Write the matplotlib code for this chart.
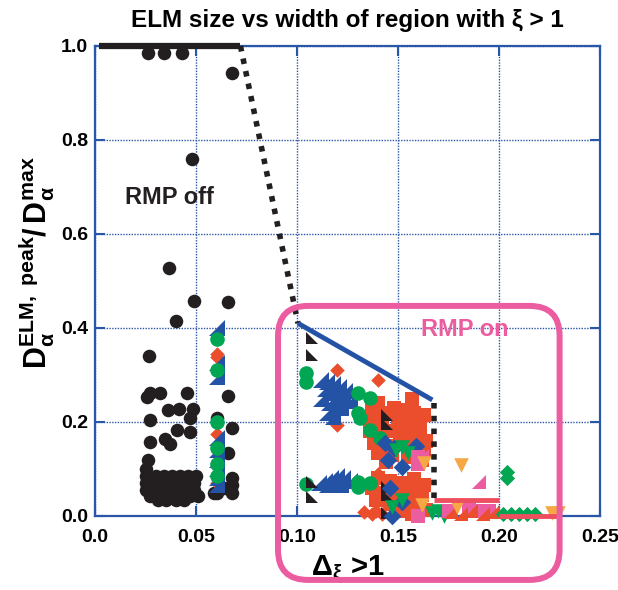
import matplotlib
matplotlib.use("Agg")
import matplotlib.pyplot as plt
from matplotlib.path import Path
from matplotlib.patches import FancyBboxPatch
import numpy as np

plt.rcParams['font.family'] = ['Liberation Sans', 'DejaVu Sans']
plt.rcParams['mathtext.fontset'] = 'custom'
plt.rcParams['mathtext.rm'] = 'Liberation Sans:bold'
plt.rcParams['mathtext.bf'] = 'Liberation Sans:bold'
plt.rcParams['mathtext.it'] = 'Liberation Sans:bold'
plt.rcParams['mathtext.default'] = 'bf'

# ---------------- data ----------------
title = "ELM size vs width of region with ξ > 1"
xticks = [0.0, 0.05, 0.10, 0.15, 0.20, 0.25]
xtick_labels = ["0.0", "0.05", "0.10", "0.15", "0.20", "0.25"]
yticks = [0.0, 0.2, 0.4, 0.6, 0.8, 1.0]
ytick_labels = ["0.0", "0.2", "0.4", "0.6", "0.8", "1.0"]

# RMP off: black circles
off_x = [0.026, 0.034, 0.043, 0.068, 0.048, 0.0367, 0.049, 0.066, 0.040, 0.0267,
         0.027, 0.032, 0.0455, 0.066, 0.0257, 0.036, 0.0416, 0.0485, 0.027, 0.047,
         0.047, 0.0406, 0.0347, 0.037, 0.027, 0.068, 0.066, 0.0605, 0.026, 0.059,
         0.068, 0.068, 0.064, 0.068, 0.025, 0.025,
         0.030, 0.034, 0.038, 0.042, 0.046, 0.050,
         0.025, 0.029, 0.033, 0.037, 0.041, 0.045, 0.049,
         0.025, 0.029, 0.033, 0.037, 0.041, 0.045, 0.049,
         0.027, 0.031, 0.035, 0.039, 0.043, 0.047, 0.051,
         0.031, 0.035, 0.040, 0.044, 0.0605]
off_y = [0.985, 0.985, 0.985, 0.943, 0.76, 0.528, 0.457, 0.455, 0.415, 0.34,
         0.262, 0.262, 0.262, 0.255, 0.253, 0.225, 0.228, 0.228, 0.204, 0.208,
         0.179, 0.183, 0.164, 0.153, 0.157, 0.187, 0.134, 0.208, 0.119, 0.049,
         0.08, 0.05, 0.06, 0.065, 0.10, 0.085,
         0.085, 0.085, 0.085, 0.085, 0.085, 0.085,
         0.07, 0.07, 0.07, 0.07, 0.07, 0.07, 0.07,
         0.055, 0.055, 0.055, 0.055, 0.055, 0.055, 0.055,
         0.043, 0.043, 0.043, 0.043, 0.043, 0.043, 0.043,
         0.033, 0.033, 0.033, 0.033, 0.05]

# RMP on series
red_sq_x = [0.157, 0.140, 0.137, 0.143, 0.148, 0.153, 0.158, 0.163, 0.136, 0.142,
            0.150, 0.156, 0.161, 0.136, 0.141, 0.147, 0.153, 0.159, 0.164, 0.138,
            0.145, 0.151, 0.158, 0.163, 0.140, 0.147, 0.155, 0.162, 0.144,
            0.140, 0.146, 0.152, 0.158, 0.163, 0.137, 0.143, 0.150, 0.156, 0.162,
            0.139, 0.146, 0.155, 0.160, 0.150, 0.157, 0.164]
red_sq_y = [0.250, 0.240, 0.225, 0.220, 0.230, 0.225, 0.220, 0.215, 0.200, 0.200,
            0.205, 0.200, 0.190, 0.180, 0.170, 0.180, 0.175, 0.170, 0.160, 0.155,
            0.150, 0.155, 0.145, 0.140, 0.135, 0.130, 0.125, 0.120, 0.115,
            0.080, 0.075, 0.070, 0.078, 0.065, 0.060, 0.050, 0.045, 0.055, 0.045,
            0.035, 0.025, 0.030, 0.020, 0.010, 0.005, 0.012]

red_dia_x = [0.120, 0.140, 0.120, 0.140, 0.137, 0.142, 0.139, 0.133, 0.0605, 0.0605, 0.0605, 0.0605]
red_dia_y = [0.310, 0.290, 0.194, 0.090, 0.005, 0.005, 0.010, 0.008, 0.345, 0.338, 0.175, 0.07]

blue_tri_x = [0.112, 0.115, 0.118, 0.121, 0.114, 0.117, 0.120, 0.123, 0.112, 0.116,
              0.119, 0.122, 0.115, 0.118, 0.124, 0.126,
              0.111, 0.114, 0.117, 0.120, 0.123, 0.126, 0.119, 0.122, 0.115,
              0.0605, 0.0605, 0.0605, 0.0605, 0.0605, 0.0605, 0.0605, 0.0605, 0.0605]
blue_tri_y = [0.290, 0.285, 0.280, 0.275, 0.270, 0.262, 0.255, 0.250, 0.250, 0.240,
              0.235, 0.230, 0.220, 0.210, 0.265, 0.245,
              0.070, 0.075, 0.080, 0.085, 0.080, 0.075, 0.070, 0.065, 0.065,
              0.400, 0.325, 0.296, 0.165, 0.140, 0.120, 0.100, 0.080, 0.065]

green_c_x = [0.1045, 0.1045, 0.130, 0.136, 0.130, 0.131, 0.1045, 0.130, 0.136, 0.130,
             0.136, 0.141, 0.0605, 0.0605, 0.0605, 0.0605, 0.0605, 0.0605]
green_c_y = [0.304, 0.285, 0.262, 0.251, 0.219, 0.208, 0.068, 0.072, 0.070, 0.062,
             0.183, 0.165, 0.377, 0.310, 0.200, 0.145, 0.110, 0.085]

black_tri_x = [0.1074, 0.1074, 0.1446, 0.1446, 0.1074, 0.1074, 0.1446, 0.1446, 0.1446]
black_tri_y = [0.379, 0.343, 0.215, 0.195, 0.072, 0.040, 0.062, 0.045, 0.006]

blue_dia_x = [0.1436, 0.152, 0.159, 0.145, 0.148, 0.146, 0.152, 0.147]
blue_dia_y = [0.155, 0.105, 0.150, 0.120, 0.145, 0.060, 0.030, 0.000]

green_dn_x = [0.152, 0.149, 0.155, 0.152, 0.147, 0.167, 0.170, 0.173]
green_dn_y = [0.147, 0.140, 0.135, 0.034, 0.020, 0.006, 0.010, 0.000]

pink_sq_x = [0.160, 0.160, 0.160, 0.175, 0.185, 0.190, 0.195]
pink_sq_y = [0.110, 0.125, 0.000, 0.010, 0.015, 0.010, 0.010]

pink_tri_x = [0.190, 0.162]
pink_tri_y = [0.072, 0.128]

red_tri_x = [0.176, 0.181, 0.186, 0.192, 0.197]
red_tri_y = [0.008, 0.005, 0.010, 0.005, 0.008]

green_dia_x = [0.204, 0.204, 0.202, 0.206, 0.210, 0.214, 0.218]
green_dia_y = [0.094, 0.080, 0.005, 0.005, 0.005, 0.005, 0.005]

orange_dn_x = [0.163, 0.181, 0.162, 0.179, 0.226, 0.229]
orange_dn_y = [0.113, 0.109, 0.023, 0.020, 0.006, 0.006]

# guide lines
off_line_x = [0.002, 0.072]
off_line_y = [1.0, 1.0]
drop_x = [0.072, 0.1005]
drop_y = [1.0, 0.41]
on_line_x = [0.1005, 0.167]
on_line_y = [0.41, 0.247]
vert_x = [0.168, 0.168]
vert_y = [0.24, 0.03]
red_line1_x = [0.168, 0.200]
red_line1_y = [0.034, 0.034]
red_line2_x = [0.200, 0.230]
red_line2_y = [0.000, 0.000]

box_x0, box_x1 = 0.0906, 0.230
box_y0, box_y1 = -0.136, 0.447

# ---------------- colours ----------------
BLACK = "#231f20"
BLUE = "#2453a6"
GREEN = "#00a651"
RED = "#ea4e2c"
ORANGE = "#f5a843"
PINK = "#ec5ca0"
REDLINE = "#ee4f5f"
AXBLUE = "#2a56a8"

tri_br = Path([(1, 1), (1, -1), (-1, -1), (1, 1)], [1, 2, 2, 79])   # right angle at bottom-right
tri_bl = Path([(-1, 1), (-1, -1), (1, -1), (-1, 1)], [1, 2, 2, 79])  # right angle at bottom-left

fig = plt.figure(figsize=(6.18, 5.90), dpi=100)
ax = fig.add_axes([95/618, 1-516/590, 505/618, 470/590])
ax.set_xlim(0, 0.25)
ax.set_ylim(0, 1.0)

kw = dict(linewidths=0, clip_on=False)
ax.scatter(off_x, off_y, s=95, color=BLACK, marker='o', zorder=3, **kw)
ax.scatter(red_sq_x, red_sq_y, s=115, color=RED, marker='s', zorder=4, **kw)
ax.scatter(red_dia_x, red_dia_y, s=55, color=RED, marker='D', zorder=4, **kw)
ax.scatter(blue_tri_x, blue_tri_y, s=140, color=BLUE, marker=tri_br, zorder=5, **kw)
ax.scatter(green_c_x, green_c_y, s=110, color=GREEN, marker='o', zorder=6, **kw)
ax.scatter(black_tri_x, black_tri_y, s=70, color=BLACK, marker=tri_bl, zorder=7, **kw)
ax.scatter(blue_dia_x, blue_dia_y, s=80, color=BLUE, marker='D', zorder=7, **kw)
ax.scatter(green_dn_x, green_dn_y, s=110, color=GREEN, marker='v', zorder=8, **kw)
ax.scatter(pink_sq_x, pink_sq_y, s=100, color=PINK, marker='s', zorder=8, **kw)
ax.scatter(pink_tri_x, pink_tri_y, s=90, color=PINK, marker=tri_br, zorder=8, **kw)
ax.scatter(red_tri_x, red_tri_y, s=90, color=RED, marker=tri_br, zorder=8, **kw)
ax.scatter(green_dia_x, green_dia_y, s=60, color=GREEN, marker='D', zorder=8, **kw)
ax.scatter(orange_dn_x, orange_dn_y, s=110, color=ORANGE, marker='v', zorder=9, **kw)

ax.plot(off_line_x, off_line_y, color=BLACK, lw=4.5, solid_capstyle='butt', zorder=10, clip_on=False)
ax.plot(drop_x, drop_y, color=BLACK, lw=4, linestyle=(0, (1, 1.3)), zorder=10, clip_on=False)
ax.plot(on_line_x, on_line_y, color=BLUE, lw=3.5, solid_capstyle='butt', zorder=10)
ax.plot(vert_x, vert_y, color=BLACK, lw=4, linestyle=(0, (1, 1.3)), zorder=10)
ax.plot(red_line1_x, red_line1_y, color=REDLINE, lw=3.5, solid_capstyle='butt', zorder=10)
ax.plot(red_line2_x, red_line2_y, color=REDLINE, lw=3.5, solid_capstyle='butt', zorder=10, clip_on=False)

# rounded box in data coords
px_per_x = 505 / 0.25
px_per_y = 470 / 1.0
radius_px = 30
aspect = px_per_x / px_per_y
box = FancyBboxPatch((box_x0, box_y0), box_x1 - box_x0, box_y1 - box_y0,
                     boxstyle=f"round,pad=0,rounding_size={radius_px/px_per_x}",
                     mutation_aspect=aspect, transform=ax.transData,
                     fill=False, edgecolor=PINK, lw=4.3, clip_on=False, zorder=11)
ax.add_patch(box)

ax.text(0.037, 0.677, "RMP off", color=BLACK, fontsize=17, fontweight='bold',
        ha='center', va='center', zorder=12)
ax.text(0.183, 0.396, "RMP on", color=PINK, fontsize=17, fontweight='bold',
        ha='center', va='center', zorder=12)

ax.set_xticks(xticks)
ax.set_xticklabels(xtick_labels, fontsize=14, fontweight='bold')
ax.set_yticks(yticks)
ax.set_yticklabels(ytick_labels, fontsize=14, fontweight='bold')
ax.tick_params(axis='x', pad=9)
ax.tick_params(axis='y', pad=5)
ax.tick_params(direction='in', length=7, width=1.5, color=AXBLUE, top=True, right=True)
for sp in ax.spines.values():
    sp.set_color(AXBLUE)
    sp.set_linewidth(1.6)
ax.grid(True, color=AXBLUE, linestyle=(0, (1, 1)), linewidth=1.0)
ax.set_axisbelow(True)

ax.set_title(title, fontsize=17.5, fontweight='bold', pad=14)
ax.set_xlabel(r"$\Delta_{\xi}$ >1", fontsize=21, fontweight='bold', labelpad=6)
ax.set_ylabel(r"$D_{\alpha}^{ELM,\ peak}/\,D_{\alpha}^{max}$",
              fontsize=22)
ax.yaxis.set_label_coords(-0.076, 0.54)

fig.savefig("out.png", dpi=100)
